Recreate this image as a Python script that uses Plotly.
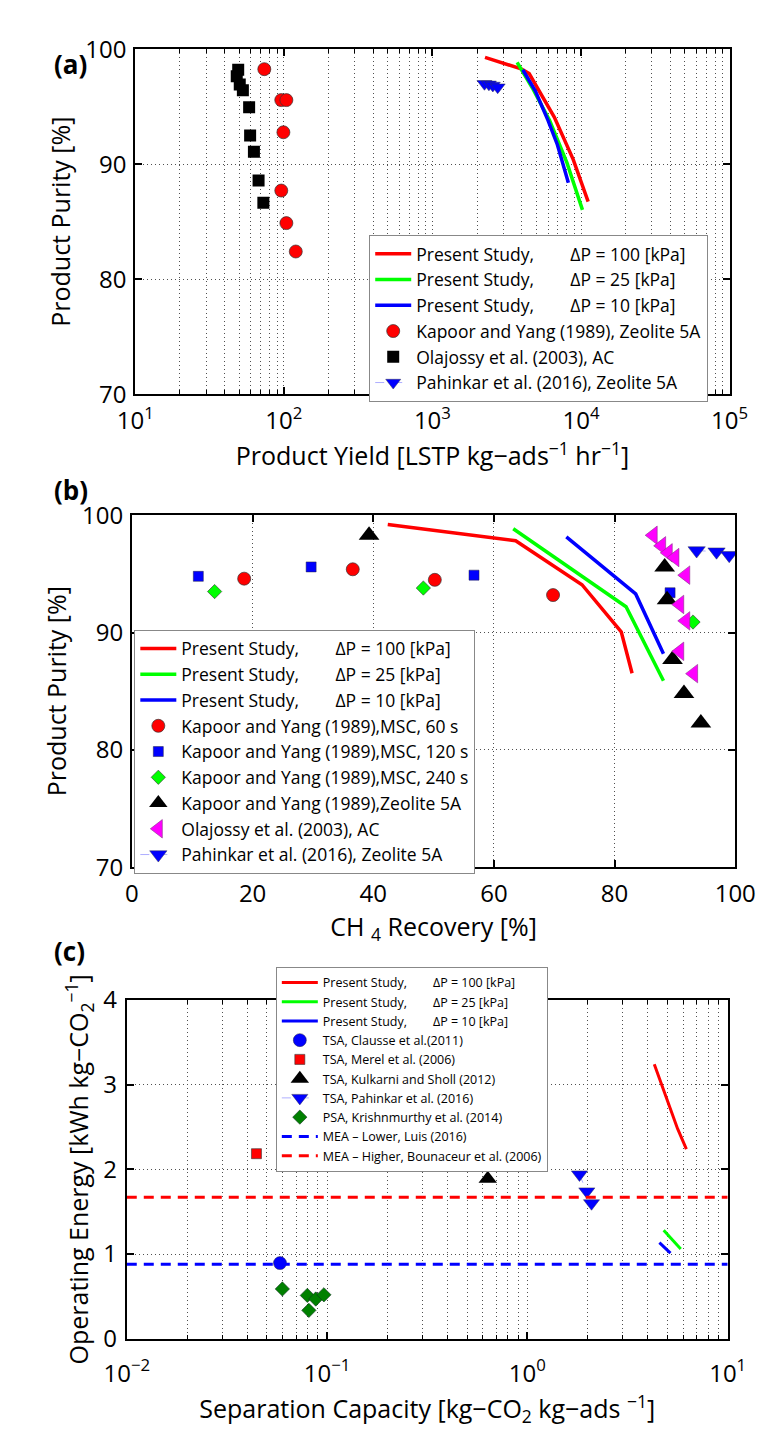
import plotly.graph_objects as go

FONT = "Open Sans"
RED = "rgb(255,0,0)"
GREEN = "rgb(0,255,0)"
BLUE = "rgb(0,0,255)"
NB = "\u00a0"

# ---------------- Panel (a) data: Product Yield vs Purity ----------------
a_yield_100 = [2259, 3954, 4477, 6607, 8855, 11170]
a_purity_100 = [99.29, 98.30, 97.88, 94.10, 90.42, 86.75]
a_yield_25 = [3715, 4698, 6141, 8035, 10230]
a_purity_25 = [98.86, 96.65, 93.82, 90.14, 86.03]
a_yield_10 = [4055, 4930, 5997, 6934, 8222]
a_purity_10 = [98.22, 96.37, 93.82, 91.70, 88.39]
a_kapoor_yield = [73.9, 96.1, 104, 99.3, 96.1, 104, 120.3]
a_kapoor_purity = [98.27, 95.58, 95.58, 92.78, 87.71, 84.88, 82.41]
a_olaj_yield = [49.3, 48.2, 50.5, 53.0, 58.4, 59.3, 62.9, 67.6, 72.8]
a_olaj_purity = [98.22, 97.65, 96.94, 96.43, 94.95, 92.49, 91.08, 88.58, 86.66]
a_pah_yield = [2240, 2400, 2550, 2750]
a_pah_purity = [97.0, 96.95, 96.85, 96.7]

# ---------------- Panel (b) data: CH4 Recovery vs Purity ----------------
b_rec_100 = [42.4, 63.6, 74.6, 81.1, 82.9]
b_pur_100 = [99.22, 97.83, 94.08, 90.06, 86.53]
b_rec_25 = [63.2, 81.9, 88.1]
b_pur_25 = [98.86, 92.2, 85.89]
b_rec_10 = [72.0, 83.5, 88.1]
b_pur_10 = [98.17, 93.3, 88.19]
b_msc60_rec = [18.6, 36.6, 50.2, 69.8]
b_msc60_pur = [94.6, 95.4, 94.5, 93.2]
b_msc120_rec = [11.0, 29.7, 56.7, 89.2]
b_msc120_pur = [94.8, 95.6, 94.9, 93.4]
b_msc240_rec = [13.7, 48.3, 93.0]
b_msc240_pur = [93.5, 93.8, 90.9]
b_zeo_rec = [39.3, 88.3, 88.7, 89.6, 91.5, 94.3]
b_zeo_pur = [98.3, 95.6, 92.8, 87.7, 84.8, 82.3]
b_olaj_rec = [86.4, 87.8, 88.9, 90.0, 91.8, 90.8, 91.8, 90.8, 93.1]
b_olaj_pur = [98.3, 97.4, 96.8, 96.4, 94.9, 92.4, 91.0, 88.4, 86.5]
b_pah_rec = [93.6, 96.9, 99.0]
b_pah_pur = [97.0, 96.9, 96.6]

# ---------------- Panel (c) data: Separation Capacity vs Energy ----------------
c_cap_100 = [4.30, 5.14, 5.62, 6.22]
c_en_100 = [3.24, 2.73, 2.48, 2.24]
c_cap_25 = [4.79, 5.83]
c_en_25 = [1.28, 1.06]
c_cap_10 = [4.56, 5.18]
c_en_10 = [1.135, 1.01]
c_clausse_cap = [0.0582]
c_clausse_en = [0.893]
c_merel_cap = [0.0444]
c_merel_en = [2.185]
c_kulkarni_cap = [0.634]
c_kulkarni_en = [1.89]
c_pah_cap = [1.82, 1.98, 2.09]
c_pah_en = [1.94, 1.74, 1.60]
c_krish_cap = [0.0598, 0.0797, 0.0811, 0.0878, 0.0964]
c_krish_en = [0.588, 0.512, 0.335, 0.469, 0.519]
c_mea_x = [0.01, 10]
c_mea_low = 0.88
c_mea_high = 1.67

# tick labels
a_xticks = [1e1, 1e2, 1e3, 1e4, 1e5]
a_xticktext = ["10<sup>1</sup>", "10<sup>2</sup>", "10<sup>3</sup>", "10<sup>4</sup>", "10<sup>5</sup>"]
c_xticks = [0.01, 0.1, 1, 10]
c_xticktext = ["10<sup>\u22122</sup>", "10<sup>\u22121</sup>", "10<sup>0</sup>", "10<sup>1</sup>"]

ps = "Present Study," + NB * 8
fig = go.Figure()


def add(x, y, name, xa, ya, leg, mode="markers", **kw):
    fig.add_trace(go.Scatter(x=x, y=y, name=name, mode=mode, xaxis=xa, yaxis=ya,
                             legend=leg, **kw))


# Panel (a)
add(a_yield_100, a_purity_100, ps + "\u0394P = 100 [kPa]", "x", "y", "legend", "lines",
    line=dict(color=RED, width=3.5))
add(a_yield_25, a_purity_25, ps + "\u0394P = 25 [kPa]", "x", "y", "legend", "lines",
    line=dict(color=GREEN, width=3.5))
add(a_yield_10, a_purity_10, ps + "\u0394P = 10 [kPa]", "x", "y", "legend", "lines",
    line=dict(color=BLUE, width=3.5))
add(a_kapoor_yield, a_kapoor_purity, "Kapoor and Yang (1989), Zeolite 5A", "x", "y", "legend",
    marker=dict(symbol="circle", size=13, color=RED, line=dict(color="#333", width=0.7)))
add(a_olaj_yield, a_olaj_purity, "Olajossy et al. (2003), AC", "x", "y", "legend",
    marker=dict(symbol="square", size=12, color="black"))
add(a_pah_yield, a_pah_purity, "Pahinkar et al. (2016), Zeolite 5A", "x", "y", "legend",
    "lines+markers", line=dict(color="rgba(120,120,255,0.6)", width=1, dash="dash"),
    marker=dict(symbol="triangle-down", size=13, color=BLUE, line=dict(color="#335", width=0.5)))

# Panel (b)
add(b_rec_100, b_pur_100, ps + "\u0394P = 100 [kPa]", "x2", "y2", "legend2", "lines",
    line=dict(color=RED, width=3.5))
add(b_rec_25, b_pur_25, ps + "\u0394P = 25 [kPa]", "x2", "y2", "legend2", "lines",
    line=dict(color=GREEN, width=3.5))
add(b_rec_10, b_pur_10, ps + "\u0394P = 10 [kPa]", "x2", "y2", "legend2", "lines",
    line=dict(color=BLUE, width=3.5))
add(b_msc60_rec, b_msc60_pur, "Kapoor and Yang (1989),MSC, 60 s", "x2", "y2", "legend2",
    marker=dict(symbol="circle", size=13, color=RED, line=dict(color="#333", width=0.7)))
add(b_msc120_rec, b_msc120_pur, "Kapoor and Yang (1989),MSC, 120 s", "x2", "y2", "legend2",
    marker=dict(symbol="square", size=10, color=BLUE, line=dict(color="#224", width=0.5)))
add(b_msc240_rec, b_msc240_pur, "Kapoor and Yang (1989),MSC, 240 s", "x2", "y2", "legend2",
    marker=dict(symbol="diamond", size=11, color=GREEN, line=dict(color="#333", width=0.6)))
add(b_zeo_rec, b_zeo_pur, "Kapoor and Yang (1989),Zeolite 5A", "x2", "y2", "legend2",
    marker=dict(symbol="triangle-up", size=18, color="black"))
add(b_olaj_rec, b_olaj_pur, "Olajossy et al. (2003), AC", "x2", "y2", "legend2",
    marker=dict(symbol="triangle-left", size=16, color="rgb(255,0,255)",
                line=dict(color="#838", width=0.6)))
add(b_pah_rec, b_pah_pur, "Pahinkar et al. (2016), Zeolite 5A", "x2", "y2", "legend2",
    "lines+markers", line=dict(color="rgba(120,120,255,0.6)", width=1, dash="dash"),
    marker=dict(symbol="triangle-down", size=15, color=BLUE, line=dict(color="#335", width=0.5)))

# Panel (c)
add(c_cap_100, c_en_100, ps + "\u0394P = 100 [kPa]", "x3", "y3", "legend3", "lines",
    line=dict(color=RED, width=3))
add(c_cap_25, c_en_25, ps + "\u0394P = 25 [kPa]", "x3", "y3", "legend3", "lines",
    line=dict(color=GREEN, width=3))
add(c_cap_10, c_en_10, ps + "\u0394P = 10 [kPa]", "x3", "y3", "legend3", "lines",
    line=dict(color=BLUE, width=3))
add(c_clausse_cap, c_clausse_en, "TSA, Clausse et al.(2011)", "x3", "y3", "legend3",
    marker=dict(symbol="circle", size=13, color=BLUE, line=dict(color="#224", width=0.5)))
add(c_merel_cap, c_merel_en, "TSA, Merel et al. (2006)", "x3", "y3", "legend3",
    marker=dict(symbol="square", size=10, color=RED, line=dict(color="#333", width=0.6)))
add(c_kulkarni_cap, c_kulkarni_en, "TSA, Kulkarni and Sholl (2012)", "x3", "y3", "legend3",
    marker=dict(symbol="triangle-up", size=16, color="black"))
add(c_pah_cap, c_pah_en, "TSA, Pahinkar et al. (2016)", "x3", "y3", "legend3",
    "lines+markers", line=dict(color="rgba(120,120,255,0.6)", width=1, dash="dash"),
    marker=dict(symbol="triangle-down", size=14, color=BLUE, line=dict(color="#335", width=0.5)))
add(c_krish_cap, c_krish_en, "PSA, Krishnmurthy et al. (2014)", "x3", "y3", "legend3",
    marker=dict(symbol="diamond", size=11, color="rgb(0,128,0)", line=dict(color="#132", width=0.6)))
add(c_mea_x, [c_mea_low] * len(c_mea_x), "MEA \u2013 Lower, Luis (2016)", "x3", "y3", "legend3",
    "lines", line=dict(color=BLUE, width=3, dash="10px,7px"))
add(c_mea_x, [c_mea_high] * len(c_mea_x), "MEA \u2013 Higher, Bounaceur et al. (2006)", "x3", "y3",
    "legend3", "lines", line=dict(color=RED, width=3, dash="10px,7px"))

W, H = 777, 1441
GRID = "#505050"
GDASH = "1px,3px"
TICKFONT = dict(family=FONT, size=24, color="black")
TITLEFONT = dict(family=FONT, size=25, color="black")


def base(**kw):
    d = dict(showline=True, linecolor="black", linewidth=2, mirror="ticks", ticks="inside",
             ticklen=7, tickwidth=1.5, tickcolor="black", showgrid=True, gridcolor=GRID,
             griddash=GDASH, gridwidth=1, zeroline=False, tickfont=TICKFONT)
    d.update(kw)
    return d


minor_log = dict(dtick="D1", ticks="inside", ticklen=4, tickcolor="black", tickwidth=1,
                 showgrid=True, gridcolor=GRID, griddash=GDASH, gridwidth=1)


def px_x(a, b):
    return [a / W, b / W]


def px_y(top, bottom):
    return [1 - bottom / H, 1 - top / H]


fig.update_layout(
    width=W, height=H, margin=dict(l=0, r=0, t=0, b=0),
    paper_bgcolor="white", plot_bgcolor="white", showlegend=True,
    font=dict(family=FONT, color="black"),
    xaxis=base(type="log", range=[1, 5], domain=px_x(119, 749), anchor="y",
               tickmode="array", tickvals=a_xticks, ticktext=a_xticktext, minor=minor_log,
               ticklabelstandoff=4,
               title=dict(text="Product Yield [LSTP kg\u2212ads<sup>\u22121</sup> hr<sup>\u22121</sup>]",
                          font=TITLEFONT, standoff=4)),
    yaxis=base(range=[70, 100], domain=px_y(32, 385), anchor="x", tickvals=[70, 80, 90, 100],
               ticklabelstandoff=2,
               title=dict(text="Product Purity [%]", font=TITLEFONT, standoff=8)),
    xaxis2=base(range=[0, 100], domain=px_x(115.5, 755), anchor="y2",
                tickvals=[0, 20, 40, 60, 80, 100], ticklabelstandoff=4,
                title=dict(text="CH <sub>4</sub> Recovery [%]", font=TITLEFONT, standoff=2)),
    yaxis2=base(range=[70, 100], domain=px_y(509, 869), anchor="x2", tickvals=[70, 80, 90, 100],
                ticklabelstandoff=2,
                title=dict(text="Product Purity [%]", font=TITLEFONT, standoff=8)),
    xaxis3=base(type="log", range=[-2, 1], domain=px_x(110, 747), anchor="y3",
                tickmode="array", tickvals=c_xticks, ticktext=c_xticktext, minor=minor_log,
                ticklabelstandoff=12,
                title=dict(text="Separation Capacity [kg\u2212CO<sub>2</sub> kg\u2212ads <sup>\u22121</sup>]",
                           font=TITLEFONT, standoff=0)),
    yaxis3=base(range=[0, 4], domain=px_y(1005, 1351.7), anchor="x3", tickvals=[0, 1, 2, 3, 4],
                ticklabelstandoff=3,
                title=dict(text="Operating Energy [kWh kg\u2212CO<sub>2</sub><sup>\u22121</sup>]",
                           font=TITLEFONT, standoff=7)),
    legend=dict(x=367 / W, y=1 - 222 / H, xanchor="left", yanchor="top", bgcolor="white",
                bordercolor="#888", borderwidth=1, font=dict(family=FONT, size=17.5, color="black"),
                itemwidth=36, tracegroupgap=0),
    legend2=dict(x=118 / W, y=1 - 626 / H, xanchor="left", yanchor="top", bgcolor="white",
                 bordercolor="#888", borderwidth=1, font=dict(family=FONT, size=17.5, color="black"),
                 itemwidth=36, tracegroupgap=0),
    legend3=dict(x=268 / W, y=1 - 971 / H, xanchor="left", yanchor="top", bgcolor="white",
                 bordercolor="#888", borderwidth=1, font=dict(family=FONT, size=12.5, color="black"),
                 itemwidth=36, tracegroupgap=0),
    annotations=[
        dict(text="<b>(a)</b>", x=31 / W, y=1 - 27 / H, xref="paper", yref="paper",
             showarrow=False, font=dict(family=FONT, size=26, color="black")),
        dict(text="<b>(b)</b>", x=31 / W, y=1 - 483 / H, xref="paper", yref="paper",
             showarrow=False, font=dict(family=FONT, size=26, color="black")),
        dict(text="<b>(c)</b>", x=31 / W, y=1 - 975 / H, xref="paper", yref="paper",
             showarrow=False, font=dict(family=FONT, size=26, color="black")),
    ],
)

fig.write_html("out.html")
